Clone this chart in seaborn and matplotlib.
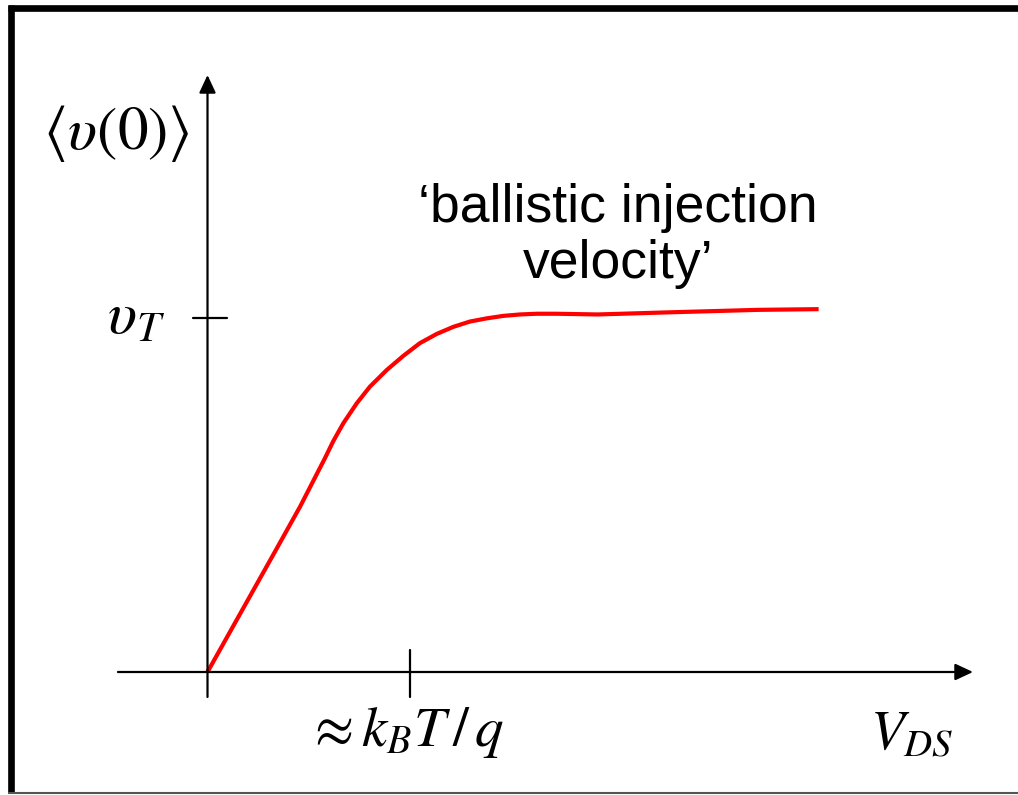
import numpy as np
import pandas as pd
import matplotlib
matplotlib.use("Agg")
import matplotlib.pyplot as plt
import seaborn as sns

# Injection velocity <v(0)> vs drain bias, in units of k_B T/q and v_T
vds = [0.0, 0.342, 0.457, 0.580, 0.621, 0.671, 0.737, 0.802, 0.885,
       0.967, 1.049, 1.132, 1.214, 1.296, 1.379, 1.461, 1.543, 1.626,
       1.724, 1.927, 2.279, 2.718, 3.018]
vel = [0.0, 0.349, 0.467, 0.604, 0.652, 0.703, 0.759, 0.806, 0.853,
       0.893, 0.929, 0.955, 0.975, 0.990, 0.999, 1.006, 1.010, 1.012,
       1.012, 1.010, 1.016, 1.023, 1.025]

x_tick_label = r"$\approx k_B T\,/\,q$"
y_tick_label = r"$\upsilon_T$"
x_label = r"$V_{DS}$"
y_label = r"$\left\langle\upsilon(0)\right\rangle$"
note = "\u2018ballistic injection\nvelocity\u2019"

sns.set_style("white")
plt.rcParams["mathtext.fontset"] = "stix"
plt.rcParams["font.family"] = ["Liberation Sans", "DejaVu Sans"]
plt.rcParams["text.color"] = "black"

W, H, DPI = 1018, 795, 100
fig = plt.figure(figsize=(W / DPI, H / DPI), dpi=DPI)
ax = fig.add_axes([0, 0, 1, 1])

# origin and unit lengths in pixels
ox, oy, ux, uy = 207.5, 672.0, 202.5, 354.0
ax.set_xlim(-ox / ux, (W - ox) / ux)
ax.set_ylim((oy - H) / uy, oy / uy)
ax.axis("off")

df = pd.DataFrame({"VDS": vds, "v0": vel})
sns.lineplot(data=df, x="VDS", y="v0", ax=ax, color="#ff0000", lw=3,
             sort=False, estimator=None, zorder=3,
             solid_joinstyle="round", solid_capstyle="butt")

arrow = dict(arrowstyle="-|>,head_length=0.6,head_width=0.28",
             mutation_scale=18, lw=1.6, color="black",
             shrinkA=0, shrinkB=0)
# vertical axis
ax.annotate("", xy=(0, (oy - 75) / uy), xytext=(0, (oy - 697) / uy),
            arrowprops=arrow)
# horizontal axis
ax.annotate("", xy=((973 - ox) / ux, 0), xytext=((118 - ox) / ux, 0),
            arrowprops=arrow)

# tick marks
ax.plot([(193 - ox) / ux, (227 - ox) / ux], [1, 1], color="black", lw=1.6)
ax.plot([1, 1], [(oy - 650) / uy, (oy - 697) / uy], color="black", lw=1.6)


def px(x, y):
    return (x - ox) / ux, (oy - y) / uy


ax.text(*px(116, 133), y_label, fontsize=44, ha="center", va="center")
ax.text(*px(136, 318), y_tick_label, fontsize=44, ha="center", va="center")
ax.text(*px(405, 732), x_tick_label, fontsize=41, ha="center", va="center")
ax.text(*px(912, 735), x_label, fontsize=40, ha="center", va="center")
ax.text(*px(618, 236), note, fontsize=38.5, ha="center", va="center",
        linespacing=1.15)

# slide frame: heavy top and left edges, thin grey bottom edge
fig.add_artist(plt.Line2D([8, W], [H - 7.5, H - 7.5], transform=None,
                          color="black", lw=4.8, solid_capstyle="butt"))
fig.add_artist(plt.Line2D([11, 11], [H - 5, H - 793], transform=None,
                          color="black", lw=4.8, solid_capstyle="butt"))
fig.add_artist(plt.Line2D([8, W], [H - 793, H - 793], transform=None,
                          color="#555555", lw=1.5, solid_capstyle="butt"))

fig.savefig("out.png", dpi=DPI, facecolor="white")
